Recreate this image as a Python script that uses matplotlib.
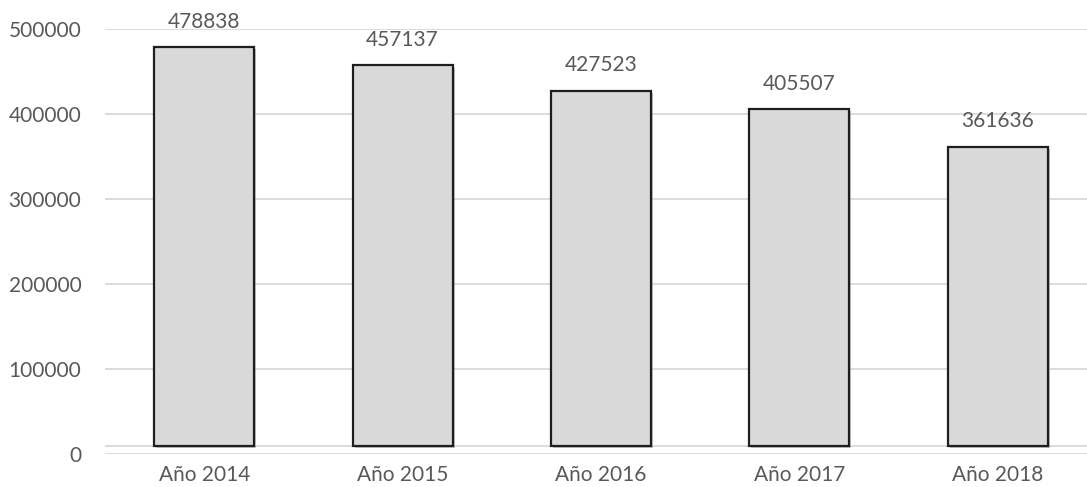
import matplotlib
matplotlib.use("Agg")
import matplotlib.pyplot as plt
import matplotlib.patheffects as pe

categories = ["Año 2014", "Año 2015", "Año 2016", "Año 2017", "Año 2018"]
values = [478838, 457137, 427523, 405507, 361636]
yticks = [0, 100000, 200000, 300000, 400000, 500000]

W, H, DPI = 1087, 487, 100
fig = plt.figure(figsize=(W / DPI, H / DPI), dpi=DPI)
# axes in pixel terms: x from 105 to 1097, y from 454 (0) to 29 (500000)
ax = fig.add_axes([105 / W, (H - 454) / H, (1097 - 105) / W, (454 - 29) / H])
ax.set_xlim(-0.5, len(categories) - 0.5)
ax.set_ylim(0, 500000)

font = "Lato"
gray = "#595959"
floor = 9000  # depth of the chart floor (3D-style offset)

ax.set_yticks(yticks)
ax.set_yticklabels([str(t) for t in yticks], fontname=font, fontsize=15, color=gray)
ax.set_xticks(range(len(categories)))
ax.set_xticklabels(categories, fontname=font, fontsize=15, color=gray)
ax.tick_params(axis="y", length=0, pad=17)
ax.tick_params(axis="x", length=0, pad=8)
ax.grid(axis="y", color="#d9d9d9", linewidth=1.3)
ax.axhline(floor, color="#d9d9d9", linewidth=1.3, zorder=1)
ax.set_axisbelow(True)
for s in ax.spines.values():
    s.set_visible(False)

bars = ax.bar(range(len(categories)), [v - floor for v in values], bottom=floor,
              width=0.504, color="#d9d9d9", edgecolor="#1e1e1e", linewidth=1.6, zorder=3)
for b in bars:
    b.set_path_effects([pe.SimplePatchShadow(offset=(1.5, -1.5), shadow_rgbFace="#888888", alpha=0.5),
                        pe.Normal()])

for i, v in enumerate(values):
    ax.annotate(str(v), (i, v), xytext=(0, 11), textcoords="offset points",
                ha="center", va="bottom", fontname=font, fontsize=15, color=gray)

fig.savefig("out.png", dpi=DPI)
